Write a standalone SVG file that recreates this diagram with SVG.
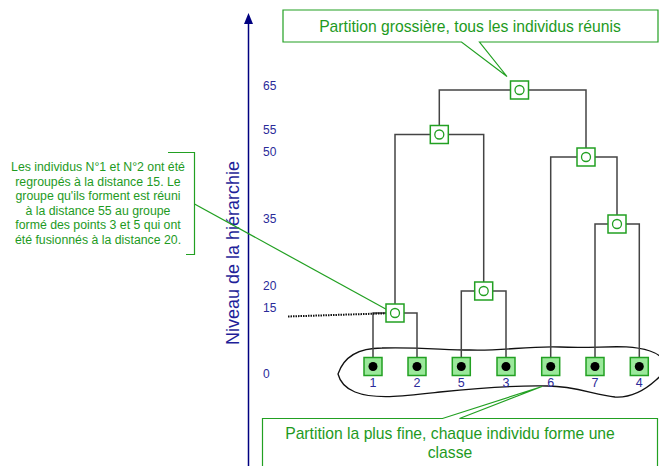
<svg xmlns="http://www.w3.org/2000/svg" width="659" height="466" viewBox="0 0 659 466">
<defs>
<style>
.ax{stroke:#000080;stroke-width:1.5;fill:none}
.tick{font-family:"Liberation Sans",Arial,sans-serif;font-size:12px;fill:#2a2a99}
.leafno{font-family:"Liberation Sans",Arial,sans-serif;font-size:12.5px;fill:#2a2a99;text-anchor:middle}
.axlabel{font-family:"Liberation Sans",Arial,sans-serif;font-size:18px;fill:#1f1f99;text-anchor:middle}
.note{font-family:"Liberation Sans",Arial,sans-serif;fill:#1e9a1e;text-anchor:middle}
.callout{fill:#ffffff;stroke:#22a022;stroke-width:1.2}
.gline{stroke:#22a022;stroke-width:1.2;fill:none}
.edge{stroke:#444444;stroke-width:1.5;fill:none}
.inode{fill:#ffffff;stroke:#22a022;stroke-width:1.5}
.icirc{fill:none;stroke:#22a022;stroke-width:1.3}
.leaf{fill:#9be89b;stroke:#22a022;stroke-width:1.5}
.dot{fill:#000000}
.blob{fill:none;stroke:#111111;stroke-width:1.3}
</style>
</defs>
<rect width="659" height="466" fill="#ffffff"/>

<!-- axis -->
<g id="axis">
<line class="ax" x1="248.5" y1="22" x2="248.5" y2="466"/>
<polygon points="248.5,13 244,24 253,24" fill="#000080"/>
<text class="tick" x="263" y="90">65</text>
<text class="tick" x="263" y="134">55</text>
<text class="tick" x="263" y="156">50</text>
<text class="tick" x="263" y="223">35</text>
<text class="tick" x="263" y="290">20</text>
<text class="tick" x="263" y="312">15</text>
<text class="tick" x="263" y="378">0</text>
<text class="axlabel" transform="translate(239,253) rotate(-90)">Niveau de la hiérarchie</text>
</g>

<!-- blob around leaves -->
<g id="partition-fine-outline">
<path class="blob" d="M338,374 C344,356 360,348 382,348 C420,347 445,350 470,350 C505,351 525,346 560,347 C600,349 625,343 650,351 C668,357 668,370 656,380 C645,390 632,398 615,397 C595,395 575,386 548,386 C515,385 480,388 440,392 C405,396 375,400 355,392 C345,388 340,382 338,374 Z"/>
</g>

<!-- connectors -->
<g id="connectors">
<path class="edge" d="M373,357.5 V313 H417 V357.5"/>
<path class="edge" d="M461.3,357.5 V291 H506 V357.5"/>
<path class="edge" d="M595,357.5 V224 H639.3 V357.5"/>
<path class="edge" d="M550.7,357.5 V157 H617 V224"/>
<path class="edge" d="M395,313 V134.5 H483.7 V291"/>
<path class="edge" d="M439.3,134.5 V90 H586 V157"/>
<line x1="288" y1="316.5" x2="395" y2="313" stroke="#111111" stroke-width="2" stroke-dasharray="1.5 1"/>
<line class="gline" x1="194.5" y1="204" x2="393" y2="313"/>
</g>

<!-- internal nodes -->
<g id="node-65"><rect class="inode" x="510.5" y="81" width="18" height="18"/><circle class="icirc" cx="519.5" cy="90" r="4.5"/></g>
<g id="node-55"><rect class="inode" x="430.3" y="125.5" width="18" height="18"/><circle class="icirc" cx="439.3" cy="134.5" r="4.5"/></g>
<g id="node-50"><rect class="inode" x="577" y="148" width="18" height="18"/><circle class="icirc" cx="586" cy="157" r="4.5"/></g>
<g id="node-35"><rect class="inode" x="608" y="215" width="18" height="18"/><circle class="icirc" cx="617" cy="224" r="4.5"/></g>
<g id="node-20"><rect class="inode" x="474.7" y="282" width="18" height="18"/><circle class="icirc" cx="483.7" cy="291" r="4.5"/></g>
<g id="node-15"><rect class="inode" x="386" y="304" width="18" height="18"/><circle class="icirc" cx="395" cy="313" r="4.5"/></g>

<!-- leaves -->
<g id="leaf-1"><rect class="leaf" x="364" y="357.5" width="18" height="18"/><circle class="dot" cx="373" cy="366.5" r="4.5"/><text class="leafno" x="373" y="387">1</text></g>
<g id="leaf-2"><rect class="leaf" x="408" y="357.5" width="18" height="18"/><circle class="dot" cx="417" cy="366.5" r="4.5"/><text class="leafno" x="417" y="387">2</text></g>
<g id="leaf-5"><rect class="leaf" x="452.3" y="357.5" width="18" height="18"/><circle class="dot" cx="461.3" cy="366.5" r="4.5"/><text class="leafno" x="461.3" y="387">5</text></g>
<g id="leaf-3"><rect class="leaf" x="497" y="357.5" width="18" height="18"/><circle class="dot" cx="506" cy="366.5" r="4.5"/><text class="leafno" x="506" y="387">3</text></g>
<g id="leaf-6"><rect class="leaf" x="541.7" y="357.5" width="18" height="18"/><circle class="dot" cx="550.7" cy="366.5" r="4.5"/><text class="leafno" x="550.7" y="387">6</text></g>
<g id="leaf-7"><rect class="leaf" x="586" y="357.5" width="18" height="18"/><circle class="dot" cx="595" cy="366.5" r="4.5"/><text class="leafno" x="595" y="387">7</text></g>
<g id="leaf-4"><rect class="leaf" x="630.3" y="357.5" width="18" height="18"/><circle class="dot" cx="639.3" cy="366.5" r="4.5"/><text class="leafno" x="639.3" y="387">4</text></g>

<!-- callouts -->
<g id="callout-top">
<path class="callout" d="M283,10 H658 V42 H479.5 L507,76.5 L461.5,42 H283 Z"/>
<text class="note" x="470" y="31.5" font-size="15.7">Partition grossière, tous les individus réunis</text>
</g>

<g id="callout-bottom">
<path class="callout" d="M262.5,470 V418.5 H442.5 L542,386.5 L459.5,418.5 H657.5 V470"/>
<text class="note" x="450" y="439" font-size="15.7">Partition la plus fine, chaque individu forme une</text>
<text class="note" x="450" y="457.5" font-size="15.7">classe</text>
</g>

<g id="callout-left">
<path class="gline" d="M168,152.5 H194.5 V254.5 H186"/>
<text class="note" font-size="12.3" x="98" y="171">Les individus N°1 et N°2 ont été</text>
<text class="note" font-size="12.3" x="98" y="185.5">regroupés à la distance 15. Le</text>
<text class="note" font-size="12.3" x="98" y="200">groupe qu'ils forment est réuni</text>
<text class="note" font-size="12.3" x="98" y="214.5">à la distance 55 au groupe</text>
<text class="note" font-size="12.3" x="98" y="229">formé des points 3 et 5 qui ont</text>
<text class="note" font-size="12.3" x="98" y="243.5">été fusionnés à la distance 20.</text>
</g>
</svg>
